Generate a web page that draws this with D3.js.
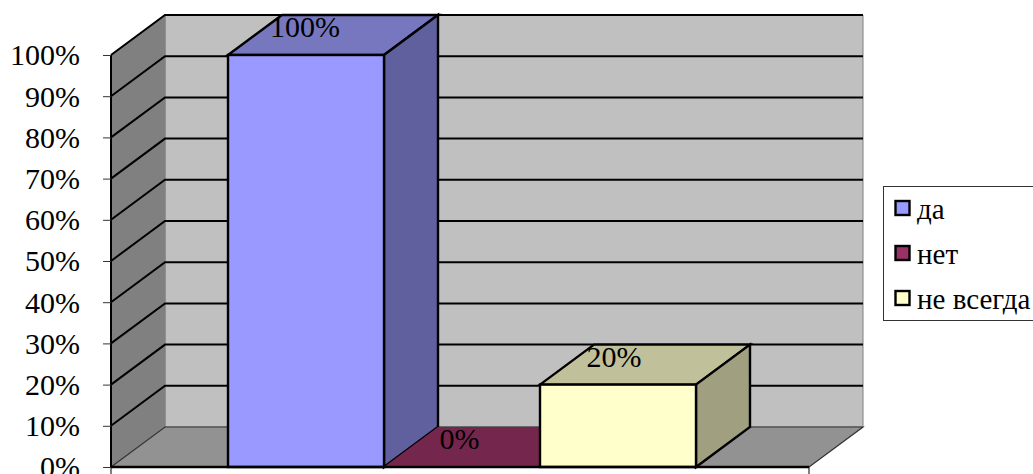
<!DOCTYPE html>
<html>

<head>
    <meta charset="utf-8">
    <title>Chart</title>
    <style>
        html, body { margin: 0; padding: 0; background: #fff; overflow: hidden; }
        svg { display: block; }
        text { font-family: "Liberation Serif", serif; fill: #000; }
    </style>
</head>

<body>
    <script src="https://d3js.org/d3.v7.min.js"></script>
    <script>
    const seriesNames = ["да", "нет", "не всегда"];
    const seriesValues = [100, 0, 20];
    const seriesLabels = ["100%", "0%", "20%"];
    const tickValues = [0, 10, 20, 30, 40, 50, 60, 70, 80, 90, 100];

    const frontColors = ["#9999ff", "#993366", "#ffffcc"];
    const sideColors = ["#60609f", "#602040", "#a0a080"];
    const topColors = ["#7777bf", "#75264c", "#c0c09a"];

    const width = 1033;
    const height = 474;

    // 3d offset of the back wall
    const dx = 54;
    const dy = -40;

    const floorLeft = 111;
    const floorRight = 809;

    const svg = d3.select("body")
        .append("svg")
        .attr("width", width)
        .attr("height", height);

    const y = d3.scaleLinear().domain([0, 100]).range([467, 55]);

    // bars sit on the band scale, outer padding leaves the empty floor at both ends
    const x = d3.scaleBand()
        .domain(seriesNames)
        .range([floorLeft, 813])
        .paddingInner(0)
        .paddingOuter(0.75);

    const poly = pts => "M" + pts.map(p => p.join(",")).join("L") + "Z";

    // Walls and floor
    svg.append("path")
        .attr("d", poly([[floorLeft + dx, y(100) + dy], [floorRight + dx, y(100) + dy], [floorRight + dx, y(0) + dy], [floorLeft + dx, y(0) + dy]]))
        .attr("fill", "#c0c0c0")
        .attr("stroke", "#808080")
        .attr("stroke-width", 1);

    svg.append("path")
        .attr("d", poly([[floorLeft, y(100)], [floorLeft + dx, y(100) + dy], [floorLeft + dx, y(0) + dy], [floorLeft, y(0)]]))
        .attr("fill", "#808080")
        .attr("stroke", "#808080");

    svg.append("path")
        .attr("d", poly([[floorLeft, y(0)], [floorLeft + dx, y(0) + dy], [floorRight + dx, y(0) + dy], [floorRight, y(0)]]))
        .attr("fill", "#929292");

    // Gridlines run over both walls
    const grid = svg.append("g").attr("fill", "none").attr("stroke", "#000");
    grid.selectAll("path")
        .data(tickValues)
        .join("path")
        .attr("stroke-width", d => d === 0 ? 1.2 : 2)
        .attr("stroke", d => d === 0 ? "#333" : "#000")
        .attr("d", d => d === 0
            ? `M${floorLeft},${y(d)}L${floorLeft + dx},${y(d) + dy}L${floorRight + dx},${y(d) + dy}L${floorRight},${y(d)}`
            : `M${floorLeft},${y(d)}L${floorLeft + dx},${y(d) + dy}L${floorRight + dx},${y(d) + dy}`);

    // Bars
    const bars = svg.append("g")
        .selectAll("g")
        .data(seriesNames)
        .join("g");

    bars.each(function(name, i) {
        const g = d3.select(this);
        const x0 = x(name);
        const x1 = x0 + x.bandwidth();
        const yTop = y(seriesValues[i]);
        const yBase = y(0);
        const outline = seriesValues[i] === 0 ? "none" : "#000";

        g.append("path")
            .attr("d", poly([[x0, yTop], [x0 + dx, yTop + dy], [x1 + dx, yTop + dy], [x1, yTop]]))
            .attr("fill", topColors[i])
            .attr("stroke", outline)
            .attr("stroke-width", 2.4);
        if (seriesValues[i] === 0) return;
        g.append("path")
            .attr("d", poly([[x1, yTop], [x1 + dx, yTop + dy], [x1 + dx, yBase + dy], [x1, yBase]]))
            .attr("fill", sideColors[i])
            .attr("stroke", outline)
            .attr("stroke-width", 2.4);
        g.append("rect")
            .attr("x", x0)
            .attr("y", yTop)
            .attr("width", x1 - x0)
            .attr("height", yBase - yTop)
            .attr("fill", frontColors[i])
            .attr("stroke", outline)
            .attr("stroke-width", 2.4);
    });

    // Front floor edge and the wall corner
    svg.append("line")
        .attr("x1", floorLeft).attr("x2", floorRight)
        .attr("y1", y(0)).attr("y2", y(0))
        .attr("stroke", "#000").attr("stroke-width", 2.4);
    svg.append("line")
        .attr("x1", floorLeft).attr("x2", floorLeft)
        .attr("y1", y(100)).attr("y2", y(0))
        .attr("stroke", "#000").attr("stroke-width", 2);

    // Little category ticks under the floor
    svg.selectAll(".cat-tick")
        .data([floorLeft, floorRight])
        .join("line")
        .attr("class", "cat-tick")
        .attr("x1", d => d).attr("x2", d => d)
        .attr("y1", y(0)).attr("y2", height)
        .attr("stroke", "#000");

    // Value axis, the 0% label runs off the bottom edge as in the original
    const axis = svg.append("g")
        .attr("transform", `translate(${floorLeft},0)`)
        .call(d3.axisLeft(y)
            .tickValues(tickValues)
            .tickFormat(d => d + "%")
            .tickSize(8)
            .tickPadding(23));
    axis.select(".domain").remove();
    axis.selectAll("line").attr("stroke", "#333");
    axis.selectAll("text")
        .style("font-size", "30px")
        .attr("dy", "0.33em");

    // Data labels
    svg.append("g")
        .selectAll("text")
        .data(seriesNames)
        .join("text")
        .attr("x", (d, i) => x(d) + x.bandwidth() / 2 - 1 - i * 1.5)
        .attr("y", (d, i) => y(seriesValues[i]) - 18)
        .attr("text-anchor", "middle")
        .style("font-size", "30px")
        .text((d, i) => seriesLabels[i]);

    // Legend
    const legend = svg.append("g");
    legend.append("rect")
        .attr("x", 883.5).attr("y", 186.5)
        .attr("width", 160).attr("height", 134)
        .attr("fill", "#fff").attr("stroke", "#333");

    const legendY = d3.scalePoint().domain(seriesNames).range([208, 298]);

    const items = legend.selectAll(".item")
        .data(seriesNames)
        .join("g")
        .attr("class", "item")
        .attr("transform", d => `translate(0,${legendY(d)})`);

    items.append("rect")
        .attr("x", 895.5).attr("y", -7)
        .attr("width", 14).attr("height", 14)
        .attr("fill", (d, i) => frontColors[i])
        .attr("stroke", "#000")
        .attr("stroke-width", 2.4);

    items.append("text")
        .attr("x", 917)
        .attr("y", 11)
        .style("font-size", "29px")
        .text(d => d);
    </script>
</body>

</html>
